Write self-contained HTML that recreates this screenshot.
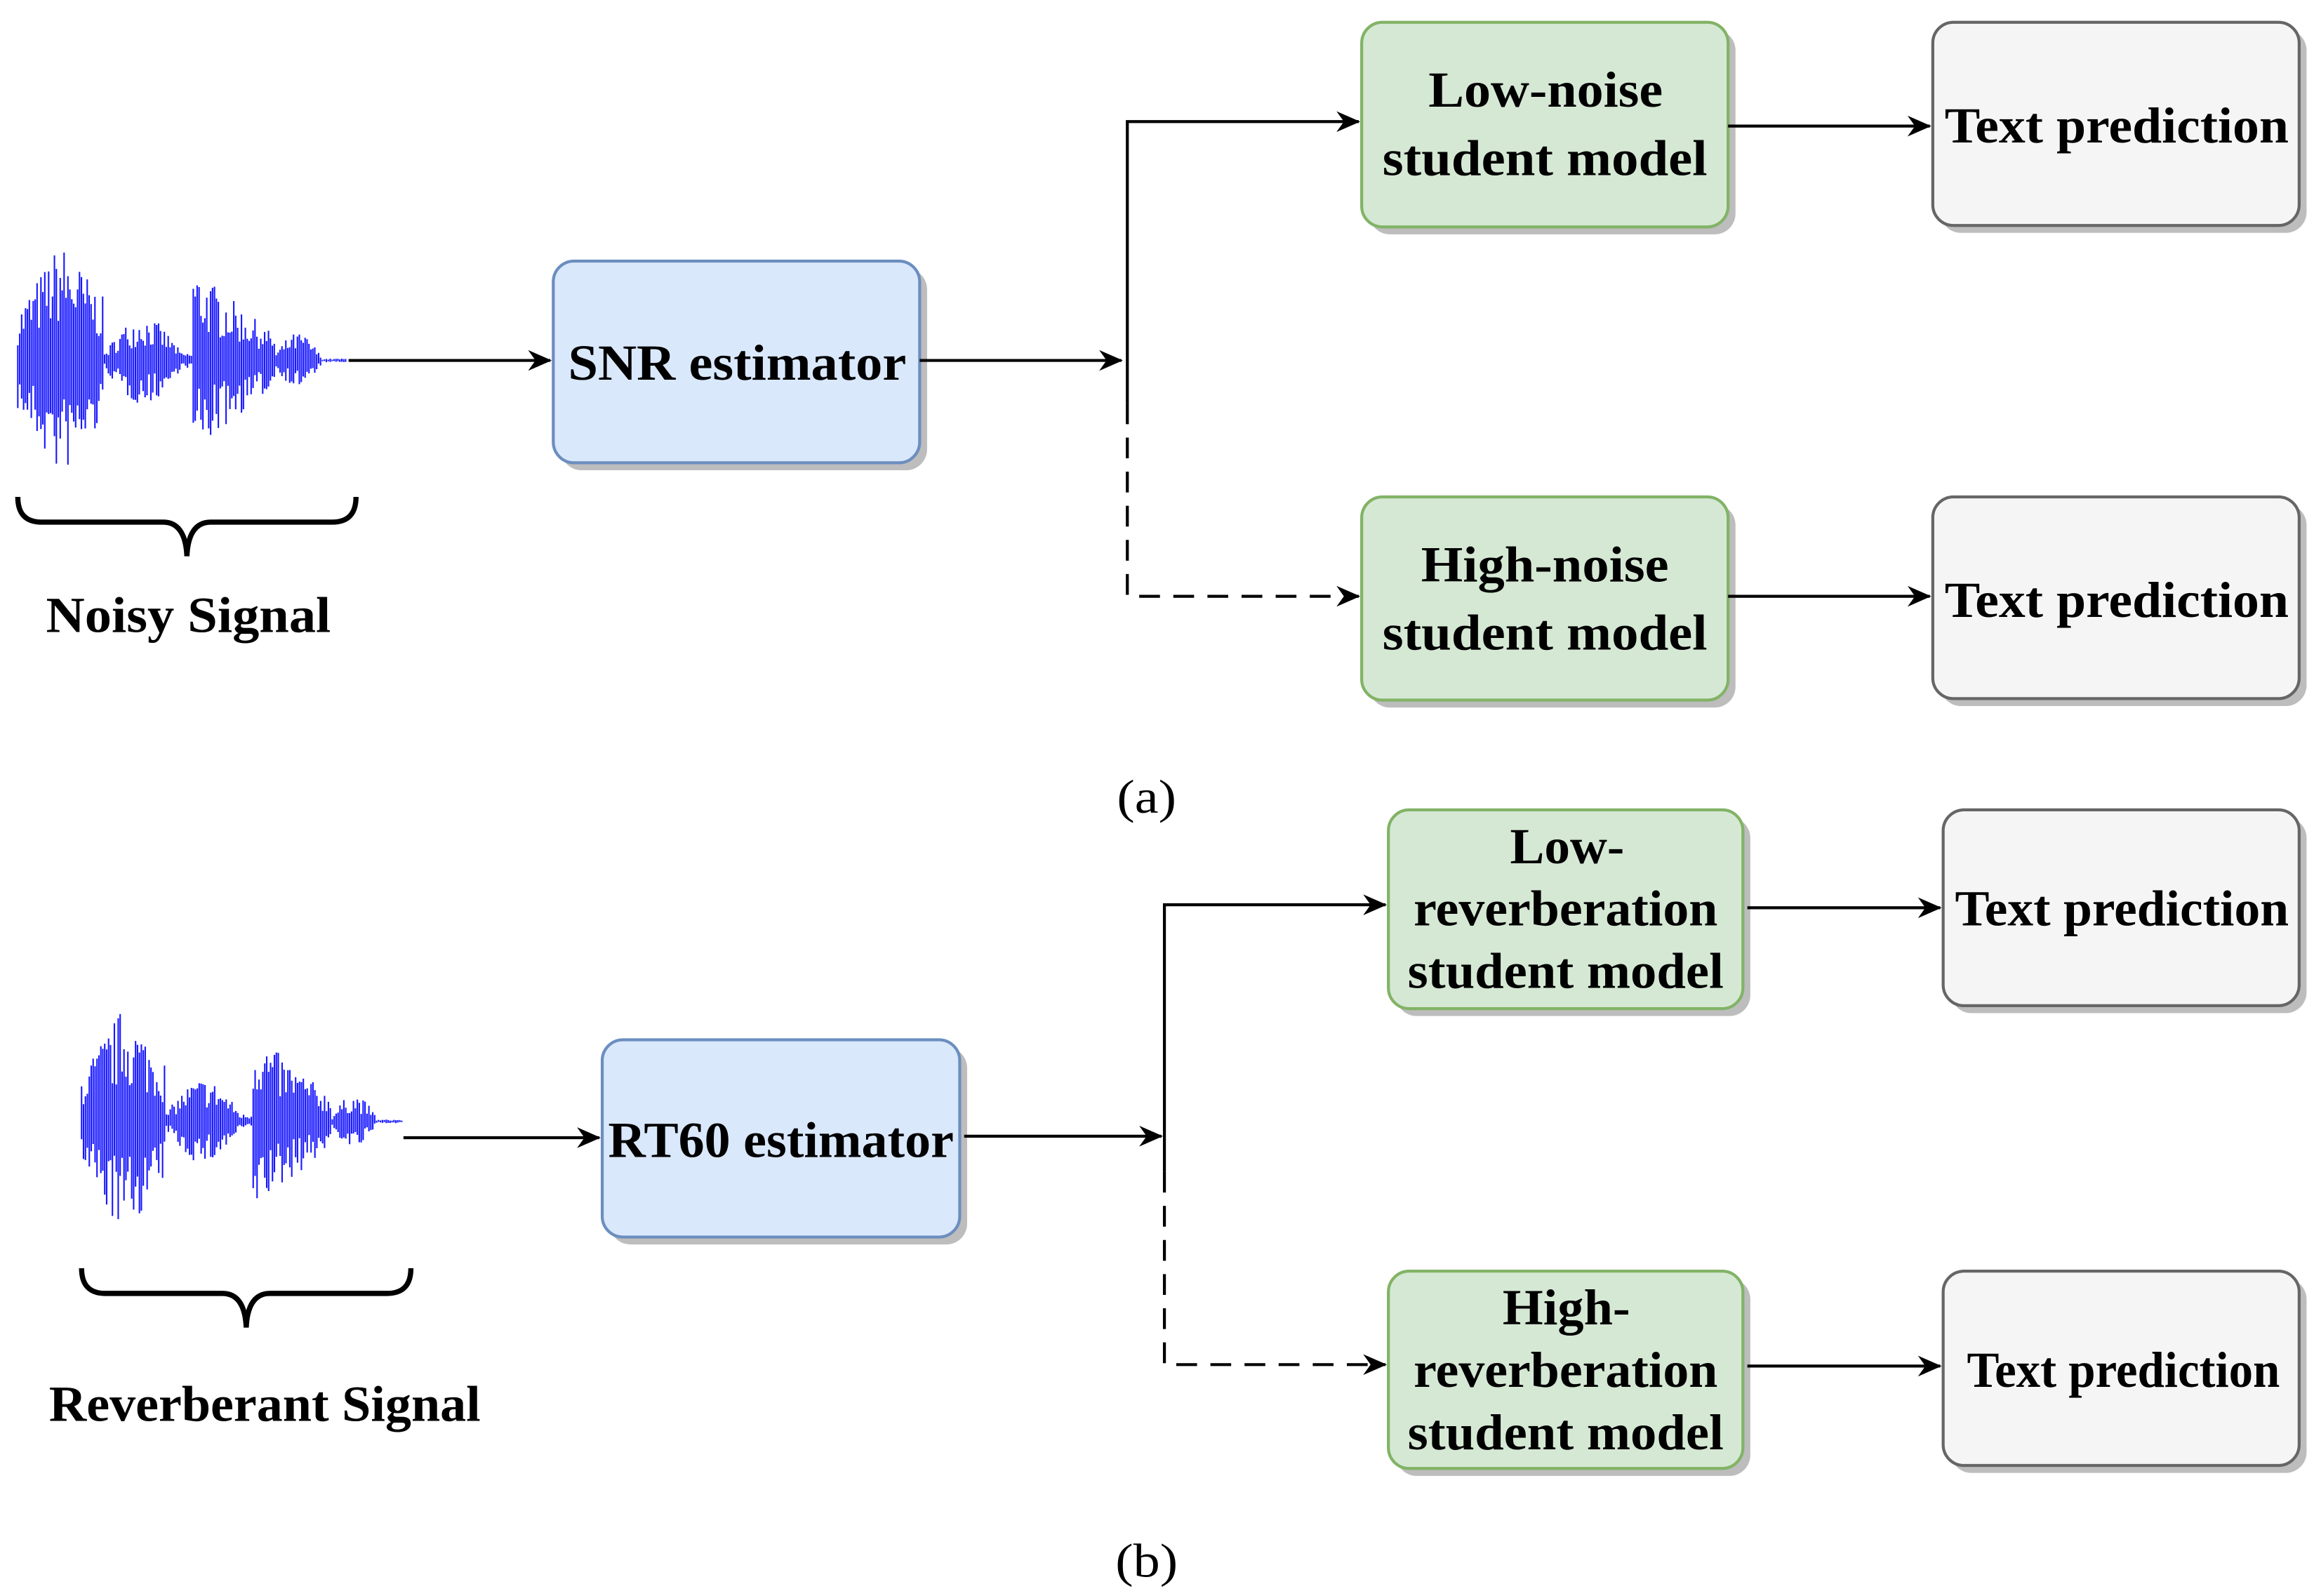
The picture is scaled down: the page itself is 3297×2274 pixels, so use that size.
<!DOCTYPE html>
<html><head><meta charset="utf-8"><style>
html,body{margin:0;padding:0;background:#fff;}
svg{display:block;}
text{font-family:"Liberation Serif",serif;font-weight:bold;fill:#000;}
</style></head><body>
<svg id="s" width="3297" height="2274" viewBox="0 0 1560 1076" preserveAspectRatio="none" xmlns="http://www.w3.org/2000/svg">
<defs>
<marker id="ar" markerWidth="16" markerHeight="14" refX="15" refY="7" orient="auto" markerUnits="userSpaceOnUse">
<path d="M0,0 L16,7 L0,14 L5,7 Z" fill="#000"/></marker>
</defs>
<g id="boxes" stroke-width="2">
<g fill="#bdbdbd" stroke="none">
<rect x="378" y="181" width="247" height="136" rx="14"/>
<rect x="923" y="20" width="247" height="138" rx="14"/>
<rect x="923" y="340" width="247" height="137" rx="14"/>
<rect x="1308" y="20" width="247" height="137" rx="14"/>
<rect x="1308" y="340" width="247" height="136" rx="14"/>
<rect x="411" y="706" width="241" height="133" rx="14"/>
<rect x="941" y="551" width="239" height="134" rx="14"/>
<rect x="941" y="862" width="239" height="133" rx="14"/>
<rect x="1315" y="551" width="240" height="132" rx="14"/>
<rect x="1315" y="862" width="240" height="131" rx="14"/>
</g>
<rect x="373" y="176" width="247" height="136" rx="14" fill="#dae8fc" stroke="#6c8ebf"/>
<rect x="918" y="15" width="247" height="138" rx="14" fill="#d5e8d4" stroke="#82b366"/>
<rect x="918" y="335" width="247" height="137" rx="14" fill="#d5e8d4" stroke="#82b366"/>
<rect x="1303" y="15" width="247" height="137" rx="14" fill="#f5f5f5" stroke="#666"/>
<rect x="1303" y="335" width="247" height="136" rx="14" fill="#f5f5f5" stroke="#666"/>
<rect x="406" y="701" width="241" height="133" rx="14" fill="#dae8fc" stroke="#6c8ebf"/>
<rect x="936" y="546" width="239" height="134" rx="14" fill="#d5e8d4" stroke="#82b366"/>
<rect x="936" y="857" width="239" height="133" rx="14" fill="#d5e8d4" stroke="#82b366"/>
<rect x="1310" y="546" width="240" height="132" rx="14" fill="#f5f5f5" stroke="#666"/>
<rect x="1310" y="857" width="240" height="131" rx="14" fill="#f5f5f5" stroke="#666"/>
</g>
<g stroke="#000" stroke-width="2" fill="none">
<line x1="235" y1="243" x2="371" y2="243" marker-end="url(#ar)"/>
<line x1="620" y1="243" x2="756" y2="243" marker-end="url(#ar)"/>
<polyline points="760,272 760,82 916,82" marker-end="url(#ar)"/>
<polyline points="760,272 760,402 916,402" stroke-dasharray="14,9" marker-end="url(#ar)"/>
<line x1="1165" y1="85" x2="1301" y2="85" marker-end="url(#ar)"/>
<line x1="1165" y1="402" x2="1301" y2="402" marker-end="url(#ar)"/>
<line x1="272" y1="767" x2="404" y2="767" marker-end="url(#ar)"/>
<line x1="650" y1="766" x2="783" y2="766" marker-end="url(#ar)"/>
<polyline points="785,790 785,610 934,610" marker-end="url(#ar)"/>
<polyline points="785,790 785,920 934,920" stroke-dasharray="14,9" marker-end="url(#ar)"/>
<line x1="1178" y1="612" x2="1308" y2="612" marker-end="url(#ar)"/>
<line x1="1178" y1="921" x2="1308" y2="921" marker-end="url(#ar)"/>
<path d="M12,335 Q12,352 28,352 L110,352 Q125,352 126,375 Q127,352 142,352 L224,352 Q240,352 240,335" stroke-width="3.5"/>
<path d="M55,855 Q55,872 71,872 L150,872 Q165,872 166,895 Q167,872 182,872 L261,872 Q277,872 277,855" stroke-width="3.5"/>
</g>
<g id="w1" stroke="#0000ff" stroke-width="1" opacity="0.9"></g>
<g id="w2" stroke="#0000ff" stroke-width="1" opacity="0.9"></g>
<g font-size="34">
<text x="383" y="256" textLength="228" lengthAdjust="spacingAndGlyphs">SNR estimator</text>
<text x="963" y="72" textLength="158" lengthAdjust="spacingAndGlyphs">Low-noise</text>
<text x="932" y="118" textLength="219" lengthAdjust="spacingAndGlyphs">student model</text>
<text x="958" y="392" textLength="167" lengthAdjust="spacingAndGlyphs">High-noise</text>
<text x="932" y="438" textLength="219" lengthAdjust="spacingAndGlyphs">student model</text>
<text x="1311" y="96" textLength="232" lengthAdjust="spacingAndGlyphs">Text prediction</text>
<text x="1311" y="416" textLength="232" lengthAdjust="spacingAndGlyphs">Text prediction</text>
<text x="31" y="426" textLength="192" lengthAdjust="spacingAndGlyphs">Noisy Signal</text>
<text x="410" y="780" textLength="233" lengthAdjust="spacingAndGlyphs">RT60 estimator</text>
<text x="1018" y="582" textLength="77" lengthAdjust="spacingAndGlyphs">Low-</text>
<text x="953" y="624" textLength="205" lengthAdjust="spacingAndGlyphs">reverberation</text>
<text x="949" y="666" textLength="213" lengthAdjust="spacingAndGlyphs">student model</text>
<text x="1013" y="893" textLength="86" lengthAdjust="spacingAndGlyphs">High-</text>
<text x="953" y="935" textLength="205" lengthAdjust="spacingAndGlyphs">reverberation</text>
<text x="949" y="977" textLength="213" lengthAdjust="spacingAndGlyphs">student model</text>
<text x="1318" y="624" textLength="225" lengthAdjust="spacingAndGlyphs">Text prediction</text>
<text x="1326" y="935" textLength="211" lengthAdjust="spacingAndGlyphs">Text prediction</text>
<text x="33" y="958" textLength="291" lengthAdjust="spacingAndGlyphs">Reverberant Signal</text>
</g>
<g font-size="32">
<text x="753" y="548" textLength="40" lengthAdjust="spacingAndGlyphs" style="font-weight:normal">(a)</text>
<text x="752" y="1063" textLength="42" lengthAdjust="spacingAndGlyphs" style="font-weight:normal">(b)</text>
</g>
</svg>
<script>
(function(){
var seed=7;function r(){seed=(seed*16807)%2147483647;return seed/2147483647;}
function env(t){
 if(t<0.13) return 40+55*(t/0.13);
 if(t<0.26) return 95-45*((t-0.13)/0.13);
 if(t<0.5){var u=(t-0.26)/0.24;return 30*Math.sin(Math.PI*u)+5;}
 if(t<0.53) return 6;
 if(t<0.78) return 75-55*((t-0.53)/0.25);
 if(t<0.92){var u=(t-0.78)/0.14;return 18*Math.sin(Math.PI*u)+4;}
 return 1.5;
}
function draw(id,x0,x1,cy,sc){
 var g=document.getElementById(id),h='';
 for(var x=x0;x<x1;x+=1.3){
  var t=(x-x0)/(x1-x0),a=env(t)*sc;
  var up=a*(0.3+0.7*r()),dn=a*(0.3+0.7*r());
  h+='<line x1="'+x.toFixed(1)+'" y1="'+(cy-up).toFixed(1)+'" x2="'+x.toFixed(1)+'" y2="'+(cy+dn).toFixed(1)+'"/>';
 }
 g.innerHTML=h;
}
draw('w1',12,234,243,0.85);
draw('w2',55,271,756,0.82);
})();
</script>
</body></html>
